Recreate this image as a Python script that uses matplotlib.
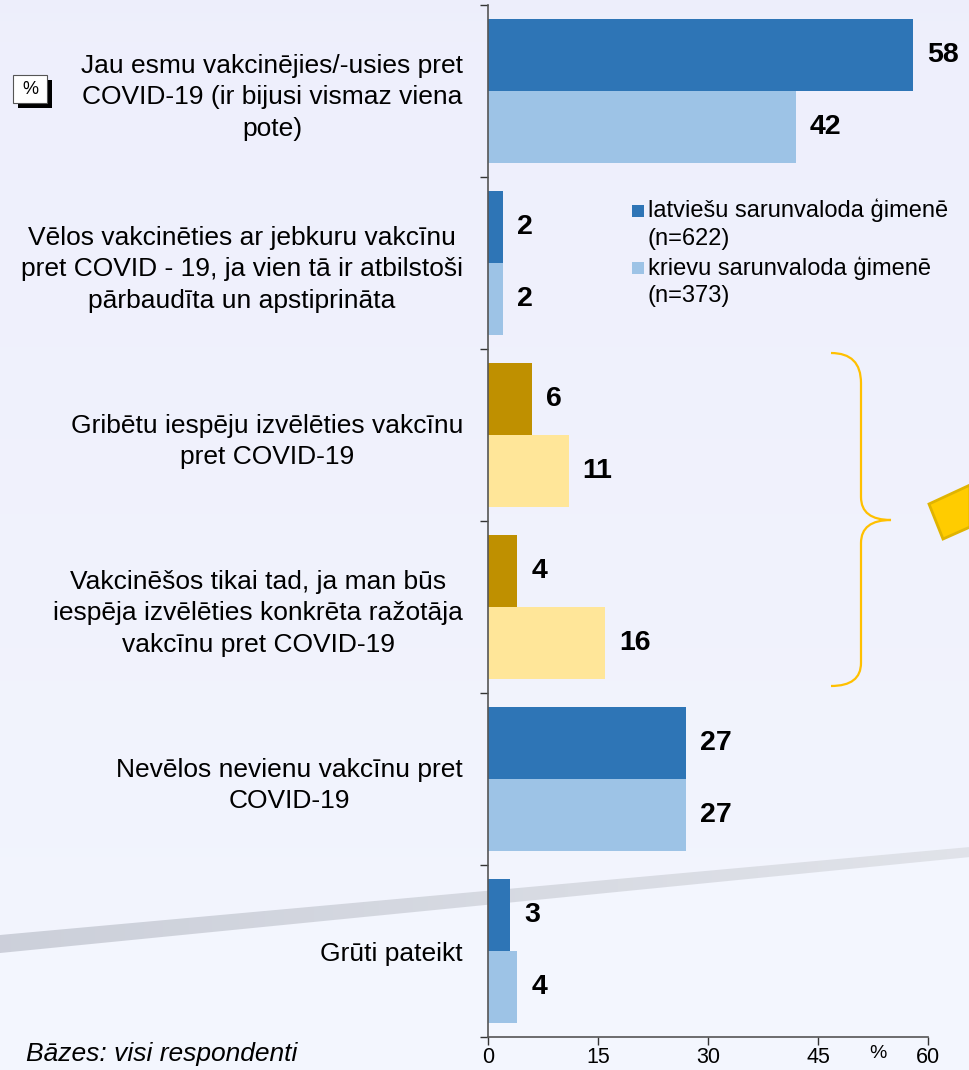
import matplotlib
matplotlib.use("Agg")
import matplotlib.pyplot as plt
import numpy as np
from matplotlib.patches import Polygon, Rectangle, PathPatch
from matplotlib.path import Path

plt.rcParams['font.family'] = ['Liberation Sans', 'DejaVu Sans']

# ---- data -------------------------------------------------------------
categories = [
    "Jau esmu vakcinējies/-usies pret\nCOVID-19 (ir bijusi vismaz viena\npote)",
    "Vēlos vakcinēties ar jebkuru vakcīnu\npret COVID - 19, ja vien tā ir atbilstoši\npārbaudīta un apstiprināta",
    "Gribētu iespēju izvēlēties vakcīnu\npret COVID-19",
    "Vakcinēšos tikai tad, ja man būs\niespēja izvēlēties konkrēta ražotāja\nvakcīnu pret COVID-19",
    "Nevēlos nevienu vakcīnu pret\nCOVID-19",
    "Grūti pateikt",
]
series_names = ["latviešu sarunvaloda ģimenē\n(n=622)",
                "krievu sarunvaloda ģimenē\n(n=373)"]
latvian = [58, 2, 6, 4, 27, 3]
russian = [42, 2, 11, 16, 27, 4]
x_ticks = [0, 15, 30, 45, 60]
base_note = "Bāzes: visi respondenti"

# ---- colours ----------------------------------------------------------
DARK_BLUE = "#2E75B6"
LIGHT_BLUE = "#9DC3E6"
DARK_GOLD = "#BF9000"
LIGHT_GOLD = "#FFE699"
dark_colors = [DARK_BLUE, DARK_BLUE, DARK_GOLD, DARK_GOLD, DARK_BLUE, DARK_BLUE]
light_colors = [LIGHT_BLUE, LIGHT_BLUE, LIGHT_GOLD, LIGHT_GOLD, LIGHT_BLUE, LIGHT_BLUE]

W, H = 970, 1070
fig = plt.figure(figsize=(W / 100, H / 100), dpi=100)


def px(x, y):
    """pixel position (from top-left) -> figure fraction"""
    return (x / W, 1 - y / H)


# ---- background with diagonal band -------------------------------------
bg = fig.add_axes([0, 0, 1, 1], zorder=0)
bg.set_xlim(0, W)
bg.set_ylim(H, 0)
bg.axis("off")
grad = np.linspace(0, 1, 256).reshape(-1, 1)
bg.imshow(np.dstack([0.933 + 0.02 * grad, 0.937 + 0.025 * grad, 0.988 + 0.006 * grad]),
          extent=[0, W, H, 0], aspect="auto", zorder=0)
lower = Polygon([(0, 953), (W, 857), (W, H), (0, H)], closed=True,
                facecolor="#F3F6FE", edgecolor="none", zorder=1)
bg.add_patch(lower)
band = Polygon([(0, 935), (W, 847), (W, 857), (0, 953)], closed=True,
               facecolor="none", edgecolor="none", zorder=2)
bg.add_patch(band)
hgrad = np.linspace(0, 1, 256).reshape(1, -1)
band_img = bg.imshow(np.dstack([0.80 + 0.08 * hgrad, 0.815 + 0.075 * hgrad, 0.855 + 0.06 * hgrad]),
                     extent=[0, W, H, 0], aspect="auto", zorder=2)
band_img.set_clip_path(band)

# yellow pointer at the right edge
bg.add_patch(Polygon([(929, 504), (W, 485), (W, 527), (943, 539)], closed=True,
                     facecolor="#FFCC00", edgecolor="#E0B400", linewidth=2, zorder=3))

# curly brace grouping the choice-related answers
verts = [(831, 353), (861, 353), (861, 383),
         (861, 497),
         (861, 520), (891, 520),
         (861, 520), (861, 543),
         (861, 663),
         (861, 686), (831, 686)]
codes = [Path.MOVETO, Path.CURVE3, Path.CURVE3,
         Path.LINETO,
         Path.CURVE3, Path.CURVE3,
         Path.CURVE3, Path.CURVE3,
         Path.LINETO,
         Path.CURVE3, Path.CURVE3]
bg.add_patch(PathPatch(Path(verts, codes), facecolor="none", edgecolor="#FFC000",
                       linewidth=1.6, zorder=3))

# "%" badge with shadow
bg.add_patch(Rectangle((18, 80), 34, 28, facecolor="black", edgecolor="none", zorder=3))
bg.add_patch(Rectangle((13, 75), 34, 28, facecolor="white", edgecolor="#555555",
                       linewidth=0.8, zorder=4))
bg.text(30, 89, "%", ha="center", va="center", fontsize=13, zorder=5)

# ---- main bar chart ---------------------------------------------------
ax = fig.add_axes([488 / W, 1 - 1037 / H, 440 / W, 1032 / H], zorder=2)
ax.patch.set_alpha(0)
n = len(categories)
centers = np.arange(n) + 0.5
bh = 0.419
ax.barh(centers - bh / 2, latvian, height=bh, color=dark_colors)
ax.barh(centers + bh / 2, russian, height=bh, color=light_colors)

for c, v in zip(centers - bh / 2, latvian):
    ax.text(v + 1.9, c, f"{v}", ha="left", va="center", fontsize=20.5, fontweight="bold")
for c, v in zip(centers + bh / 2, russian):
    ax.text(v + 1.9, c, f"{v}", ha="left", va="center", fontsize=20.5, fontweight="bold")

ax.set_xlim(0, 60)
ax.set_ylim(n, 0)
ax.set_xticks(x_ticks)
ax.set_xticklabels([str(t) for t in x_ticks], fontsize=15.5)
ax.set_yticks(np.arange(n + 1))
ax.set_yticklabels([])
ax.set_yticks(centers, minor=True)
ax.set_yticklabels(categories, minor=True, fontsize=19, linespacing=1.42)
for lab in ax.get_yticklabels(minor=True):
    lab.set_multialignment("center")
ax.tick_params(axis="y", which="major", direction="out", length=6, width=1, color="#333333")
ax.tick_params(axis="y", which="minor", length=0, pad=18)
ax.tick_params(axis="x", direction="out", length=6, width=1, color="#333333", pad=1.5)
for side in ("top", "right"):
    ax.spines[side].set_visible(False)
for side in ("left", "bottom"):
    ax.spines[side].set_color("#555555")
    ax.spines[side].set_linewidth(1.2)

# legend
for i, (name, col) in enumerate(zip(series_names, [DARK_BLUE, LIGHT_BLUE])):
    y0 = 205 + i * 57
    bg.add_patch(Rectangle((632, y0), 12, 12, facecolor=col, edgecolor="none", zorder=4))
    bg.text(648, y0 - 6, name, ha="left", va="top", fontsize=17, linespacing=1.32, zorder=5)

fig.text(*px(878, 1053), "%", ha="center", va="center", fontsize=14)
fig.text(*px(26, 1054), base_note, ha="left", va="center", fontsize=19, style="italic")

fig.savefig("out.png", dpi=100)
